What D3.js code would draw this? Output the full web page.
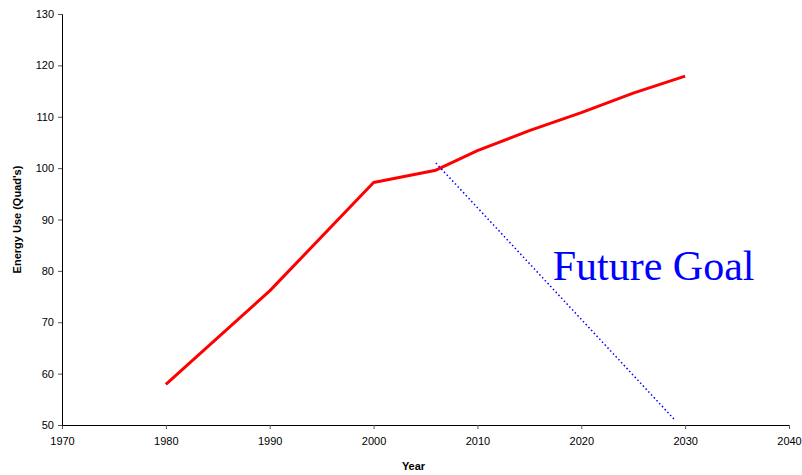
<!DOCTYPE html>
<html>
<head>
<meta charset="utf-8">
<script src="https://cdn.jsdelivr.net/npm/d3@7"></script>
<style>
  body { margin: 0; background: #fff; }
  svg text { font-family: Arial, "Liberation Sans", sans-serif; }
</style>
</head>
<body>
<svg id="chart" width="802" height="475"></svg>
<script>
// energy use history and projection
var years = [1980, 1990, 2000, 2006, 2010, 2015, 2020, 2025, 2030];
var energy = [57.9, 76.1, 97.2, 99.6, 103.4, 107.3, 110.8, 114.6, 117.9];
// future goal line
var goalYears = [2006, 2029];
var goalValues = [101, 51];
var xTicks = [1970, 1980, 1990, 2000, 2010, 2020, 2030, 2040];
var yTicks = [50, 60, 70, 80, 90, 100, 110, 120, 130];

var svg = d3.select("#chart");
var margin = {top: 14, right: 13, bottom: 50, left: 62};
var w = 802 - margin.left - margin.right;
var h = 475 - margin.top - margin.bottom;

var g = svg.append("g")
    .attr("transform", "translate(" + margin.left + "," + margin.top + ")");

var xScale = d3.scaleLinear().domain([1970, 2040]).range([0, w]);
var yScale = d3.scaleLinear().domain([50, 130]).range([h, 0]);

//axes
var xAxis = g.append("g")
    .attr("transform", "translate(0," + h + ")")
    .call(d3.axisBottom(xScale).tickValues(xTicks).tickFormat(d3.format("d")).tickSizeOuter(0).tickSize(4).tickPadding(8));
var yAxis = g.append("g")
    .call(d3.axisLeft(yScale).tickValues(yTicks).tickSizeOuter(0).tickSize(4).tickPadding(4));

[xAxis, yAxis].forEach(function(a){
    a.select(".domain").attr("stroke", "#000");
    a.selectAll(".tick line").attr("stroke", "#555");
    a.selectAll("text").attr("font-size", "11px").attr("fill", "#000")
        .style("font-family", "Arial, 'Liberation Sans', sans-serif");
});

//red energy line
var line = d3.line()
    .x(function(d, i){ return xScale(years[i]); })
    .y(function(d){ return yScale(d); });
g.append("path")
    .datum(energy)
    .attr("d", line)
    .attr("fill", "none")
    .attr("stroke", "#ff0000")
    .attr("stroke-width", 3)
    .attr("stroke-linejoin", "round");

//blue dotted goal
var goalLine = d3.line()
    .x(function(d, i){ return xScale(goalYears[i]); })
    .y(function(d){ return yScale(d); });
g.append("path")
    .datum(goalValues)
    .attr("d", goalLine)
    .attr("fill", "none")
    .attr("stroke", "#0000ff")
    .attr("stroke-width", 1.5)
    .attr("stroke-dasharray", "1.5,2.5");

g.append("text")
    .attr("x", xScale(2017.25))
    .attr("y", yScale(78.2))
    .attr("font-size", "42px")
    .style("font-family", "'Liberation Serif', 'Times New Roman', serif")
    .attr("fill", "#0000ff")
    .text("Future Goal");

//axis titles
svg.append("text")
    .attr("x", margin.left + w / 2 - 12)
    .attr("y", 470)
    .attr("text-anchor", "middle")
    .attr("font-size", "11px")
    .attr("font-weight", "bold")
    .text("Year");

svg.append("text")
    .attr("transform", "translate(21," + (margin.top + h / 2) + ") rotate(-90)")
    .attr("text-anchor", "middle")
    .attr("font-size", "11px")
    .attr("font-weight", "bold")
    .text("Energy Use (Quad's)");
</script>
</body>
</html>
